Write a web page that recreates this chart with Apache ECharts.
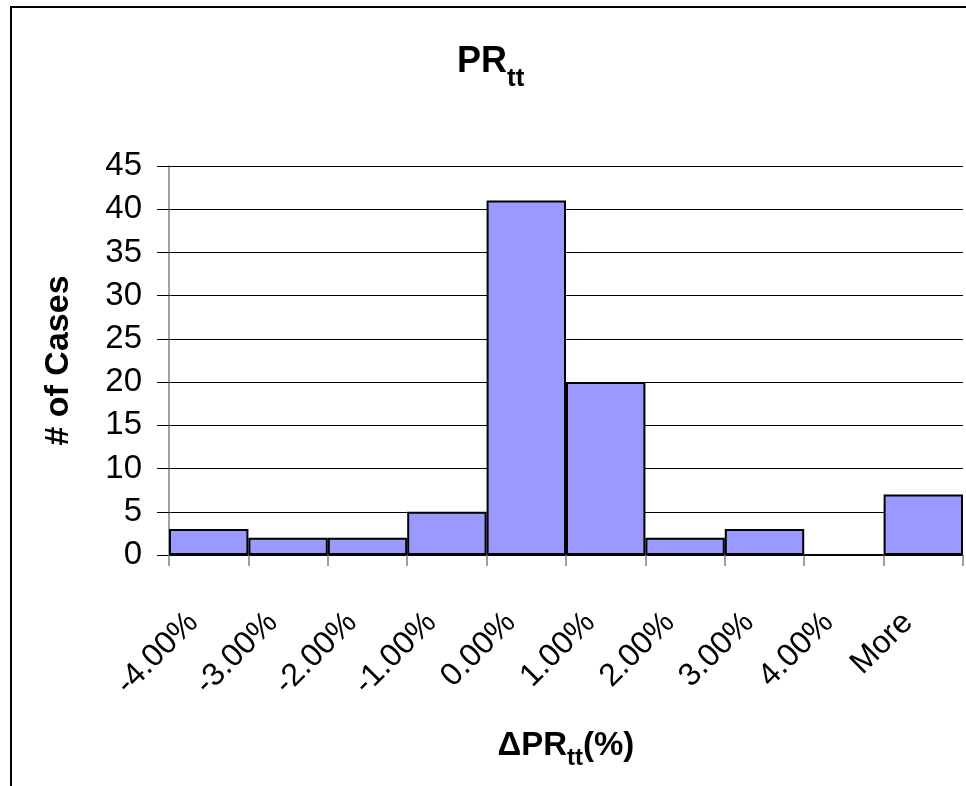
<!DOCTYPE html>
<html>
<head>
<meta charset="utf-8">
<script src="https://cdn.jsdelivr.net/npm/echarts@6/dist/echarts.min.js"></script>
<style>
  html, body { margin: 0; padding: 0; background: #fff; }
  #chart { width: 966px; height: 786px; }
</style>
</head>
<body>
<div id="chart"></div>
<script>
// Histogram bins of the change in PR_tt and the number of cases in each
const binLabels = ['-4.00%', '-3.00%', '-2.00%', '-1.00%', '0.00%', '1.00%', '2.00%', '3.00%', '4.00%', 'More'];
const caseCounts = [3, 2, 2, 5, 41, 20, 2, 3, 0, 7];
const yTicks = { min: 0, max: 45, step: 5 };

const FONT = '"Liberation Sans", Arial, sans-serif';

// rich-text styles: main text sits at the top of the line, "tt" drops to a subscript;
// the spacer token sets the line height and so how far the subscript drops
function subscriptRich(size, subSize, lineH) {
  return {
    n: { fontFamily: FONT, fontSize: size, fontWeight: 'bold', color: '#000', lineHeight: size, verticalAlign: 'top' },
    s: { fontFamily: FONT, fontSize: subSize, fontWeight: 'bold', color: '#000', lineHeight: subSize, verticalAlign: 'bottom' },
    sp: { fontFamily: FONT, fontSize: 1, lineHeight: lineH }
  };
}

const chart = echarts.init(document.getElementById('chart'), null, { renderer: 'canvas' });

chart.setOption({
  backgroundColor: '#fff',
  animation: false,
  graphic: [{
    type: 'rect',
    shape: { x: 11, y: 7, width: 2000, height: 2000 },
    style: { fill: 'none', stroke: '#000', lineWidth: 2 },
    silent: true
  }],
  title: {
    text: '{n|PR}{s|tt}{sp| }',
    left: 457,
    top: 44,
    padding: 0,
    textStyle: { rich: subscriptRich(36, 26, 48) }
  },
  grid: { left: 169, right: 3, top: 166, bottom: 231, containLabel: false },
  xAxis: {
    type: 'category',
    data: binLabels,
    name: '{n|\u0394PR}{s|tt}{n|(%)}{sp| }',
    nameLocation: 'middle',
    nameGap: 174,
    nameTextStyle: { rich: subscriptRich(33, 24, 41) },
    axisLine: { show: true, lineStyle: { color: '#000', width: 1 } },
    axisTick: { show: true, alignWithLabel: false, length: 11, lineStyle: { color: '#808080', width: 1.5 } },
    axisLabel: {
      interval: 0,
      rotate: 45,
      margin: 47,
      padding: [0, 22, 0, 0],
      fontFamily: FONT,
      fontSize: 32,
      color: '#000'
    },
    splitLine: { show: false }
  },
  yAxis: {
    type: 'value',
    min: yTicks.min,
    max: yTicks.max,
    interval: yTicks.step,
    name: '# of Cases',
    nameLocation: 'middle',
    nameRotate: 90,
    nameGap: 93,
    nameTextStyle: { fontFamily: FONT, fontSize: 34, fontWeight: 'bold', color: '#000' },
    axisLine: { show: true, lineStyle: { color: '#808080', width: 1.5 } },
    axisTick: { show: true, length: 12, lineStyle: { color: '#000', width: 1 } },
    axisLabel: { margin: 27, fontFamily: FONT, fontSize: 33, color: '#000' },
    splitLine: { show: true, lineStyle: { color: '#000', width: 1 } }
  },
  series: [{
    type: 'bar',
    data: caseCounts,
    barCategoryGap: '0%',
    itemStyle: { color: '#9999ff', borderColor: '#000', borderWidth: 2 }
  }]
});
</script>
</body>
</html>
